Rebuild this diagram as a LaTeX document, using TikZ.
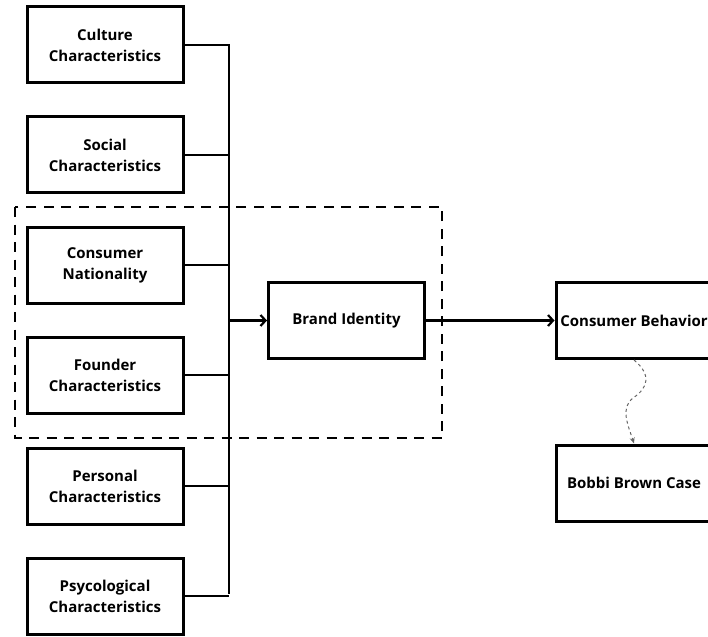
\documentclass[tikz,border=0pt]{standalone}
\usepackage{fontspec}
\setmainfont{Open Sans}
\usetikzlibrary{arrows.meta,positioning}

\begin{document}
\begin{tikzpicture}[x=1pt,y=-1pt,
  factor/.style={draw, line width=3pt, minimum width=156pt, minimum height=76pt,
    align=center, inner sep=1pt, font=\bfseries\fontsize{15}{21}\selectfont},
  link/.style={line width=2.2pt},
  >={Straight Barb[length=5pt,width=11pt,line width=2.2pt]}]

\useasboundingbox (0,0) rectangle (708,636);

% factors on the left
\node[factor] (culture) at (105,45)  {Culture\\Characteristics};
\node[factor] (social)  at (105,155) {Social\\Characteristics};
\node[factor] (nation)  at (105,265) {Consumer\\Nationality};
\node[factor] (founder) at (105,375) {Founder\\Characteristics};
\node[factor] (personal) at (105,486) {Personal\\Characteristics};
\node[factor] (psycho)  at (105,596) {Psycological\\Characteristics};

% main chain
\node[factor] (brand) at (346.5,320.5) {Brand Identity};
\node[factor] (behavior) at (634,320.5) {Consumer Behavior};
\node[factor] (bobbi) at (634,483) {Bobbi Brown Case};

% the bus
\coordinate (bustop) at (229,44);
\coordinate (busbot) at (229,594);
\draw[link] (bustop) -- (busbot);
\foreach \f in {culture,social,nation,founder,personal,psycho}
  \draw[link] (\f.east) -- (\f.east -| bustop);
\draw[link,->] (brand.west -| bustop) -- (brand.west);
\draw[link,->] (brand.east) -- (behavior.west);

% dashed frame
\draw[line width=2.6pt, dash pattern=on 10pt off 7.5pt] (15,207) rectangle (442,438);

% case link
\draw[gray!80!black, line width=1pt, dashed, -{Stealth[length=6pt,width=5pt]}]
  (behavior.south) .. controls (652,375) and (648,388) .. (633,398)
  .. controls (620,408) and (628,425) .. (bobbi.north);

\end{tikzpicture}
\end{document}
